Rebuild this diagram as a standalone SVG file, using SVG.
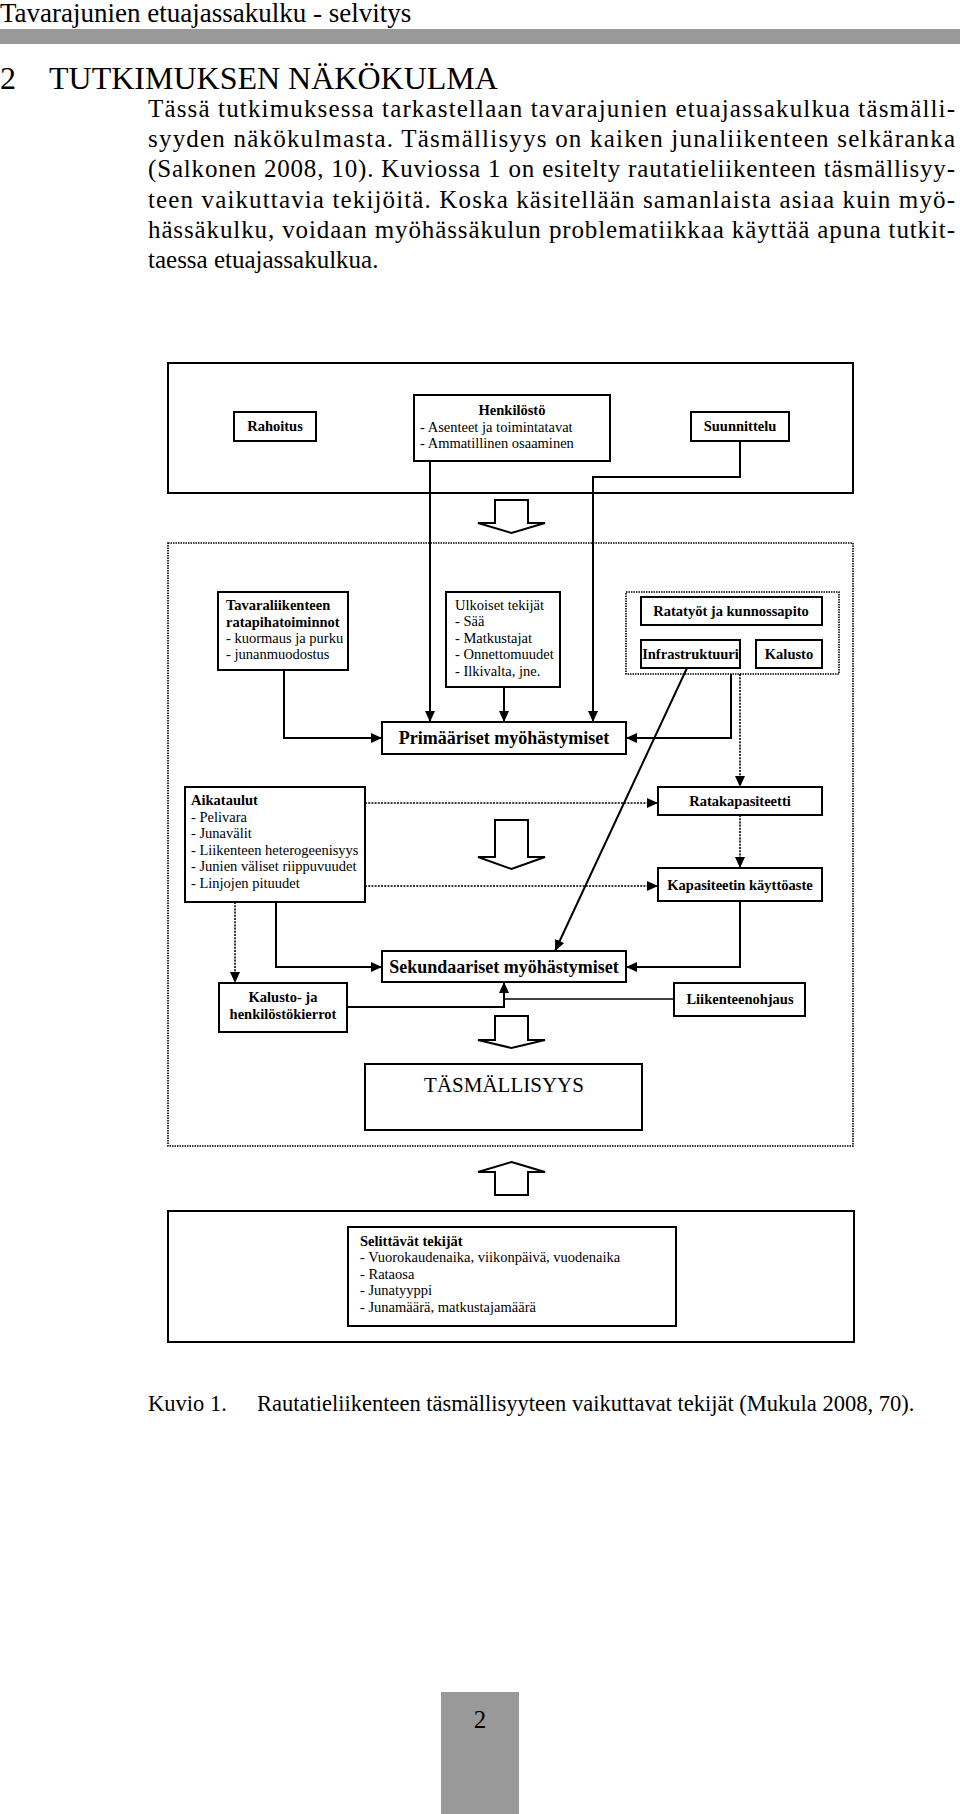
<svg xmlns="http://www.w3.org/2000/svg" width="960" height="1814" viewBox="0 0 960 1814">
<style>
text{font-family:"Liberation Serif","Times New Roman",serif;fill:#000}
.s{font-size:14.5px}
.b{font-weight:bold}
.m{text-anchor:middle}
.box{fill:#fff;stroke:#000;stroke-width:2}
.dbox{fill:none;stroke:#000;stroke-width:1.6;stroke-dasharray:1.5 1}
.ln{fill:none;stroke:#000;stroke-width:2}
.dl{fill:none;stroke:#000;stroke-width:1.6;stroke-dasharray:2 1.2}
.hol{fill:#fff;stroke:#000;stroke-width:2;stroke-linejoin:miter}
.body{font-size:25px}
</style>
<defs>
<marker id="ah" markerUnits="userSpaceOnUse" markerWidth="11" markerHeight="10" refX="11" refY="5" orient="auto">
<path d="M0,0 L11,5 L0,10 z" fill="#000"/>
</marker>
</defs>
<rect width="960" height="1814" fill="#fff"/>

<g id="page-header">
<text x="0" y="22" style="font-size:27px">Tavarajunien etuajassakulku - selvitys</text>
<rect x="0" y="29" width="960" height="15" fill="#999"/>
<text x="0" y="89" style="font-size:32px">2</text>
<text x="49" y="89" style="font-size:32px">TUTKIMUKSEN NÄKÖKULMA</text>
</g>

<g id="body-text" class="body">
<text x="148" y="117" textLength="807" lengthAdjust="spacing">Tässä tutkimuksessa tarkastellaan tavarajunien etuajassakulkua täsmälli-</text>
<text x="148" y="147" textLength="807" lengthAdjust="spacing">syyden näkökulmasta. Täsmällisyys on kaiken junaliikenteen selkäranka</text>
<text x="148" y="177" textLength="807" lengthAdjust="spacing">(Salkonen 2008, 10). Kuviossa 1 on esitelty rautatieliikenteen täsmällisyy-</text>
<text x="148" y="208" textLength="807" lengthAdjust="spacing">teen vaikuttavia tekijöitä. Koska käsitellään samanlaista asiaa kuin myö-</text>
<text x="148" y="238" textLength="807" lengthAdjust="spacing">hässäkulku, voidaan myöhässäkulun problematiikkaa käyttää apuna tutkit-</text>
<text x="148" y="268">taessa etuajassakulkua.</text>
</g>

<g id="top-frame"><rect class="box" x="168" y="363" width="685" height="130" style="fill:none"/></g>
<g id="middle-frame"><rect class="dbox" x="168" y="543" width="685" height="603"/></g>
<g id="bottom-frame"><rect class="box" x="168" y="1211" width="686" height="131" style="fill:none"/></g>

<g id="hollow-arrows">
<path class="hol" d="M495,500 L528,500 L528,523 L545,523 L511.5,533 L478,523 L495,523 Z"/>
<path class="hol" d="M495,820 L528,820 L528,857 L545,857 L511.5,869 L478,857 L495,857 Z"/>
<path class="hol" d="M495,1016 L528,1016 L528,1040 L545,1040 L511.5,1048 L478,1040 L495,1040 Z"/>
<path class="hol" d="M511.5,1162 L545,1172 L528,1172 L528,1195 L495,1195 L495,1172 L478,1172 Z"/>
</g>

<g id="connectors">
<path class="ln" d="M430,461 L430,722" marker-end="url(#ah)"/>
<path class="ln" d="M740,441 L740,477 L593,477 L593,722" marker-end="url(#ah)"/>
<path class="ln" d="M504,687 L504,722" marker-end="url(#ah)"/>
<path class="ln" d="M284,670 L284,738 L382,738" marker-end="url(#ah)"/>
<path class="ln" d="M731,674 L731,738 L626,738" marker-end="url(#ah)"/>
<path class="dl" d="M740,674 L740,787" marker-end="url(#ah)"/>
<path class="ln" d="M687,668 L555,951" marker-end="url(#ah)"/>
<path class="dl" d="M365,803 L658,803" marker-end="url(#ah)"/>
<path class="dl" d="M365,886 L658,886" marker-end="url(#ah)"/>
<path class="dl" d="M740,815 L740,868" marker-end="url(#ah)"/>
<path class="ln" d="M276,902 L276,967 L382,967" marker-end="url(#ah)"/>
<path class="dl" d="M235,902 L235,983" marker-end="url(#ah)"/>
<path class="ln" d="M740,901 L740,967 L626,967" marker-end="url(#ah)"/>
<path class="ln" d="M347,1007 L504,1007 L504,982" marker-end="url(#ah)"/>
<path d="M674,999 L504,999" fill="none" stroke="#000" stroke-width="1.3"/>
</g>

<g id="rahoitus">
<rect class="box" x="234" y="412" width="82" height="29"/>
<text class="s b m" x="275" y="431">Rahoitus</text>
</g>
<g id="henkilosto">
<rect class="box" x="414" y="395" width="196" height="66"/>
<text class="s b m" x="512" y="415">Henkilöstö</text>
<text class="s" x="420" y="432">- Asenteet ja toimintatavat</text>
<text class="s" x="420" y="448">- Ammatillinen osaaminen</text>
</g>
<g id="suunnittelu">
<rect class="box" x="691" y="412" width="98" height="29"/>
<text class="s b m" x="740" y="431">Suunnittelu</text>
</g>

<g id="tavaraliikenteen">
<rect class="box" x="218" y="592" width="130" height="78"/>
<text class="s b" x="226" y="610">Tavaraliikenteen</text>
<text class="s b" x="226" y="627">ratapihatoiminnot</text>
<text class="s" x="226" y="643">- kuormaus ja purku</text>
<text class="s" x="226" y="659">- junanmuodostus</text>
</g>
<g id="ulkoiset">
<rect class="box" x="446" y="592" width="114" height="95"/>
<text class="s" x="455" y="610">Ulkoiset tekijät</text>
<text class="s" x="455" y="626">- Sää</text>
<text class="s" x="455" y="643">- Matkustajat</text>
<text class="s" x="455" y="659">- Onnettomuudet</text>
<text class="s" x="455" y="676">- Ilkivalta, jne.</text>
</g>
<g id="rata-ryhma">
<rect class="dbox" x="626" y="592" width="213" height="82"/>
</g>
<g id="ratatyot">
<rect class="box" x="641" y="597" width="181" height="28"/>
<text class="s b m" x="731" y="616">Ratatyöt ja kunnossapito</text>
</g>
<g id="infrastruktuuri">
<rect class="box" x="641" y="640" width="99" height="28"/>
<text class="s b m" x="690.5" y="659">Infrastruktuuri</text>
</g>
<g id="kalusto">
<rect class="box" x="756" y="640" width="66" height="28"/>
<text class="s b m" x="789" y="659">Kalusto</text>
</g>
<g id="primaariset">
<rect class="box" x="382" y="722" width="244" height="32"/>
<text class="b m" x="504" y="744" style="font-size:18px">Primääriset myöhästymiset</text>
</g>

<g id="aikataulut">
<rect class="box" x="185" y="787" width="180" height="115"/>
<text class="s b" x="191" y="805">Aikataulut</text>
<text class="s" x="191" y="822">- Pelivara</text>
<text class="s" x="191" y="838">- Junavälit</text>
<text class="s" x="191" y="855">- Liikenteen heterogeenisyys</text>
<text class="s" x="191" y="871">- Junien väliset riippuvuudet</text>
<text class="s" x="191" y="888">- Linjojen pituudet</text>
</g>
<g id="ratakapasiteetti">
<rect class="box" x="658" y="787" width="164" height="28"/>
<text class="s b m" x="740" y="806">Ratakapasiteetti</text>
</g>
<g id="kayttoaste">
<rect class="box" x="658" y="868" width="164" height="33"/>
<text class="s b m" x="740" y="890">Kapasiteetin käyttöaste</text>
</g>
<g id="sekundaariset">
<rect class="box" x="382" y="951" width="244" height="31"/>
<text class="b m" x="504" y="973" style="font-size:18px">Sekundaariset myöhästymiset</text>
</g>
<g id="kierrot">
<rect class="box" x="219" y="983" width="128" height="49"/>
<text class="s b m" x="283" y="1002">Kalusto- ja</text>
<text class="s b m" x="283" y="1019">henkilöstökierrot</text>
</g>
<g id="liikenteenohjaus">
<rect class="box" x="674" y="983" width="131" height="33"/>
<text class="s b m" x="740" y="1004">Liikenteenohjaus</text>
</g>
<g id="tasmallisyys">
<rect class="box" x="365" y="1064" width="277" height="66"/>
<text class="m" x="504" y="1092" style="font-size:21px">TÄSMÄLLISYYS</text>
</g>

<g id="selittavat">
<rect class="box" x="348" y="1227" width="328" height="99"/>
<text class="s b" x="360" y="1246">Selittävät tekijät</text>
<text class="s" x="360" y="1262">- Vuorokaudenaika, viikonpäivä, vuodenaika</text>
<text class="s" x="360" y="1279">- Rataosa</text>
<text class="s" x="360" y="1295">- Junatyyppi</text>
<text class="s" x="360" y="1312">- Junamäärä, matkustajamäärä</text>
</g>

<g id="caption" style="font-size:22.5px">
<text x="148" y="1411">Kuvio 1.</text>
<text x="257" y="1411">Rautatieliikenteen täsmällisyyteen vaikuttavat tekijät (Mukula 2008, 70).</text>
</g>

<g id="page-number">
<rect x="441" y="1692" width="78" height="122" fill="#999"/>
<text class="m" x="480" y="1728" style="font-size:25px">2</text>
</g>
</svg>
